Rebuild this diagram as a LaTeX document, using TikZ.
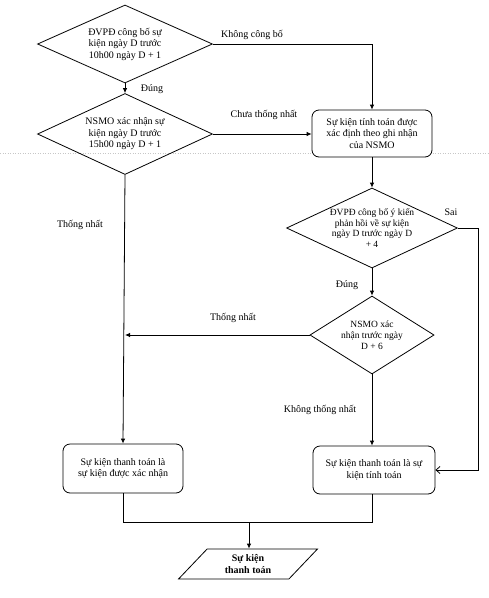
\documentclass[tikz,border=0pt]{standalone}
\usepackage{fontspec}
\setmainfont{Liberation Serif}
\usetikzlibrary{shapes.geometric,arrows.meta}
\begin{document}
\begin{tikzpicture}[x=1pt,y=-1pt,
  line width=0.8pt,
  every node/.style={font=\fontsize{10}{11.5}\selectfont, inner sep=0pt},
  decision/.style={draw, diamond, aspect=2.2, align=center},
  smalltxt/.style={font=\fontsize{9.5}{10.8}\selectfont},
  procbox/.style={draw, rounded corners=7pt, fill=white, align=center, minimum width=120pt},
  lbl/.style={anchor=center},
  arr/.style={-{Latex[length=5pt,width=4.5pt]}},
  openarr/.style={-{Straight Barb[length=4pt,width=7pt]}},
  pagebreak/.style={draw=black!22, line width=0.5pt, dotted}
]
\useasboundingbox (0,0) rectangle (489,598);
\fill[white] (0,0) rectangle (489,598);
\draw[pagebreak] (0,153) -- (489,153);

% decisions
\node[decision, minimum width=175pt, minimum height=78pt] (d1) at (125,44)
  {ĐVPĐ công bố sự\\kiện ngày D trước\\10h00 ngày D + 1};
\node[decision, minimum width=175pt, minimum height=81pt] (d2) at (125,134)
  {NSMO xác nhận sự\\kiện ngày D trước\\15h00 ngày D + 1};
\node[decision, smalltxt, minimum width=163pt, minimum height=80pt] (d3) at (372,228)
  {ĐVPĐ công bố ý kiến\\phản hồi về sự kiện\\ngày D trước ngày D\\+ 4};
\node[decision, smalltxt, minimum width=121pt, minimum height=78pt] (d4) at (372,335)
  {NSMO xác\\nhận trước ngày\\D + 6};

% process boxes
\node[procbox, minimum height=47pt] (b1) at (372,133.5)
  {Sự kiện tính toán được\\xác định theo ghi nhận\\của NSMO};
\node[procbox, minimum height=49pt] (b2) at (123,468.5)
  {Sự kiện thanh toán là\\sự kiện được xác nhận};
\node[procbox, minimum height=48pt, minimum width=122pt] (b3) at (374,470)
  {Sự kiện thanh toán là sự\\kiện tính toán};

% output
\node[draw, trapezium, trapezium left angle=49, trapezium right angle=131,
  trapezium stretches=true, minimum width=140pt, minimum height=30pt,
  align=center, font=\fontsize{10}{11.5}\selectfont\bfseries] (out) at (248,564)
  {Sự kiện\\thanh toán};

% labels
\node[lbl] (l1) at (252,35) {Không công bố};
\node[lbl] (l2) at (152,89) {Đúng};
\node[lbl] (l3) at (264,115) {Chưa thống nhất};
\node[lbl] (l4) at (80,225) {Thống nhất};
\node[lbl] (l5) at (451,212) {Sai};
\node[lbl] (l6) at (347,285) {Đúng};
\node[lbl] (l7) at (233,318) {Thống nhất};
\node[lbl] (l8) at (320,410) {Không thống nhất};

% connectors
\coordinate (sai) at (478,228);
\coordinate (mj) at (249,522);
\draw[arr] (d1.east) -| (b1.north);
\draw[arr] (d1.south) -- (d2.north);
\draw[arr] (d2.east) -- (d2.east -| b1.west);
\draw[arr] (b1.south) -- (d3.north);
\draw[openarr] (d3.east) -- (sai) |- (b3.east);
\draw[arr] (d3.south) -- (d4.north);
\draw[arr] (d4.west) -- (d4.west -| d2.south);
\draw[arr] (d2.south) -- (b2.north);
\draw[arr] (d4.south) -- (d4.south |- b3.north);
\draw (b2.south) |- (mj);
\draw (d4.south |- b3.south) |- (mj);
\draw[arr] (mj) -- (mj |- out.north);
\end{tikzpicture}
\end{document}
